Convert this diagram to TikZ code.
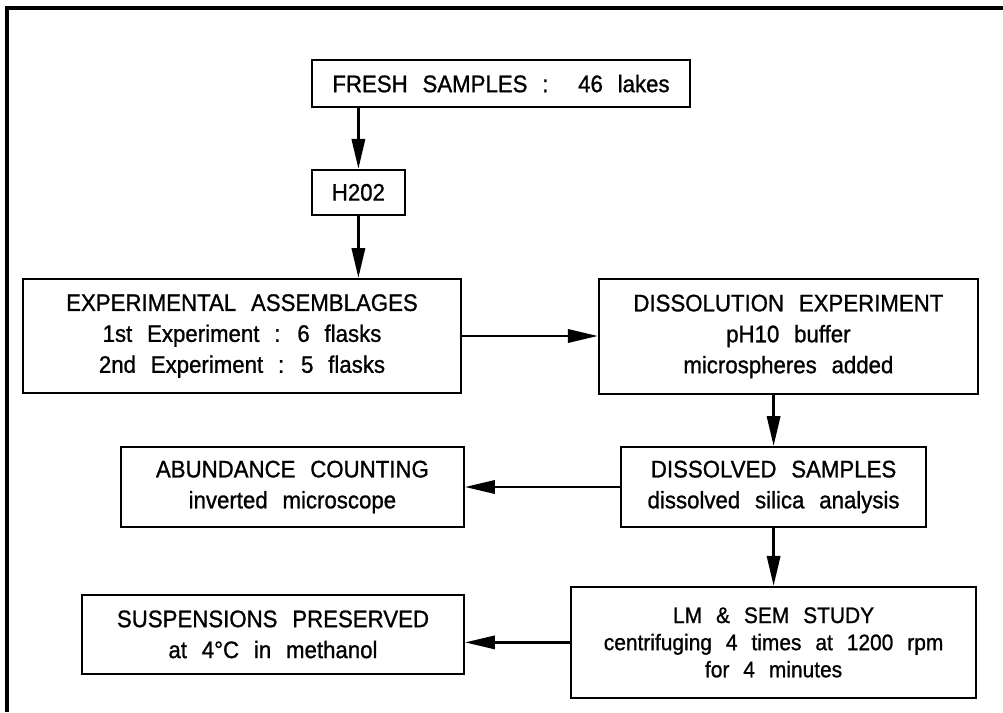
\documentclass[tikz,border=0pt]{standalone}
\usepackage{fontspec}
\setmainfont{Liberation Sans}[WordSpace=2.4, FakeBold=1, FakeStretch=0.93]
\usetikzlibrary{arrows.meta}

\begin{document}
\begin{tikzpicture}[>={Triangle[length=0.75cm,width=0.33cm]},
    box/.style={draw, line width=1.4pt, inner sep=0pt, align=center,
        font=\fontsize{17}{22}\selectfont},
    arr/.style={->, line width=2pt}]
    \useasboundingbox (0,0) rectangle (25.075,17.8);

    % Frame
    \draw[line width=2.8pt] (0.175,0) -- (0.175,17.6) -- (25.075,17.6);

    % Boxes
    \node[box, minimum width=9.45cm, minimum height=1.175cm] (fresh) at (12.525,15.71)
        {FRESH SAMPLES :~~46 lakes};
    \node[box, minimum width=2.325cm, minimum height=1.125cm] (hperox) at (8.96,12.99)
        {H202};
    \node[box, minimum width=10.95cm, minimum height=2.85cm] (assemb) at (6.05,9.4)
        {EXPERIMENTAL ASSEMBLAGES\\ 1st Experiment : 6 flasks\\ 2nd Experiment : 5 flasks};
    \node[box, minimum width=9.475cm, minimum height=2.875cm] (dissol) at (19.71,9.39)
        {DISSOLUTION EXPERIMENT\\ pH10 buffer\\ microspheres added};
    \node[box, minimum width=7.625cm, minimum height=2cm] (dissamp) at (19.34,5.625)
        {DISSOLVED SAMPLES\\ dissolved silica analysis};
    \node[box, minimum width=8.575cm, minimum height=2cm] (abund) at (7.31,5.625)
        {ABUNDANCE COUNTING\\ inverted microscope};
    \node[box, minimum width=10.125cm, minimum height=2.775cm,
        font=\fontsize{16}{19.3}\selectfont] (lmsem) at (19.34,1.74)
        {LM \& SEM STUDY\\ centrifuging 4 times at 1200 rpm\\ for 4 minutes};
    \node[box, minimum width=9.55cm, minimum height=1.975cm] (susp) at (6.825,1.94)
        {SUSPENSIONS PRESERVED\\ at 4°C in methanol};

    % Arrows
    \draw[arr] (fresh.south -| hperox) -- (hperox.north);
    \draw[arr] (hperox.south) -- (hperox.south |- assemb.north);
    \draw[arr] (assemb.east) -- (assemb.east -| dissol.west);
    \draw[arr] (dissol.south -| dissamp) -- (dissamp.north);
    \draw[arr] (dissamp.west) -- (abund.east);
    \draw[arr] (dissamp.south) -- (lmsem.north);
    \draw[arr] (lmsem.west) -- (lmsem.west -| susp.east);
\end{tikzpicture}
\end{document}
